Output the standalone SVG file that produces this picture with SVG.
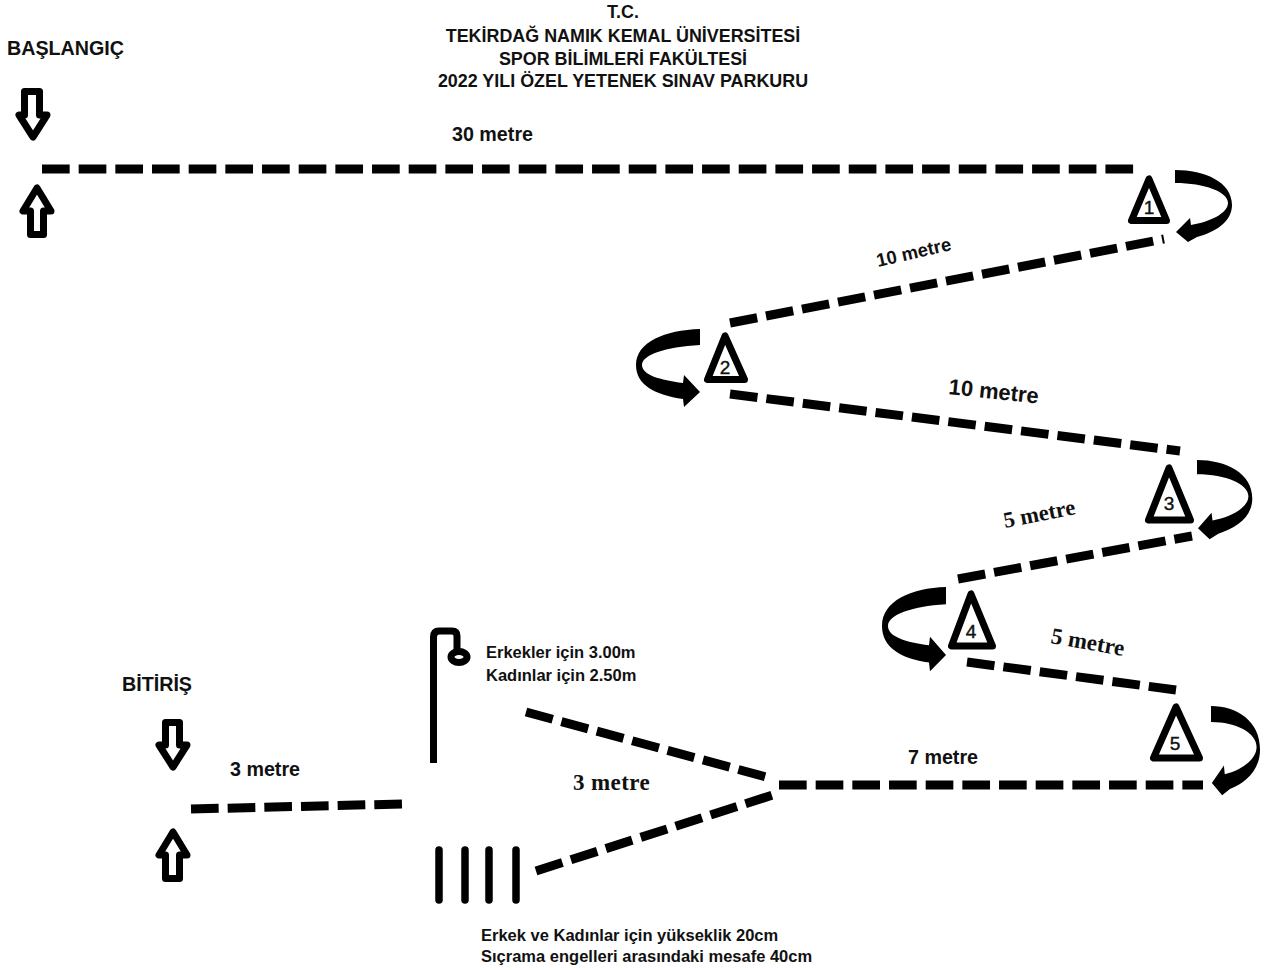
<svg xmlns="http://www.w3.org/2000/svg" xmlns:xlink="http://www.w3.org/1999/xlink" width="1266" height="970" viewBox="0 0 1266 970">
<style>
text{font-family:"Liberation Sans",Arial,sans-serif;font-weight:700;fill:#111;font-size:17.9px}
.c{text-anchor:middle}
.n{font-size:19px;font-weight:400;stroke:#111;stroke-width:.4}
.h{font-size:19.7px}
.m{font-size:16.5px}
.s{font-family:"Liberation Serif","Times New Roman",serif}
.d{fill:none;stroke:#000;stroke-width:9;stroke-dasharray:27.67 9}
.a{fill:#fff;stroke:#000;stroke-width:7;stroke-linejoin:round}
.t{fill:#fff;stroke:#000;stroke-width:7;stroke-linejoin:round}
.b{fill:none;stroke:#000;stroke-width:7.5;stroke-linecap:round}
</style>
<defs>
<path id="turn-right" d="M1175 170C1205 170 1232 182 1232 205C1232 222 1215 232 1197 237L1188 242L1176 232L1190 218L1191 225C1210 222 1228 213 1228 203C1228 192 1205 183 1175 183Z"/>
<path id="turn-left" d="M700 329C665 330 636 342 636 365C636 385 655 395 683 399L684 407L700 392L684 375L683 383C660 380 642 375 642 365C642 355 665 347 700 345Z"/>
</defs>
<rect width="1266" height="970" fill="#fff"/>
<g id="title">
<text class="c" x="623" y="18">T.C.</text>
<text class="c" x="623" y="42">TEKİRDAĞ NAMIK KEMAL ÜNİVERSİTESİ</text>
<text class="c" x="623" y="65">SPOR BİLİMLERİ FAKÜLTESİ</text>
<text class="c" x="623" y="87">2022 YILI ÖZEL YETENEK SINAV PARKURU</text>
</g>
<g id="connectors">
<path class="d" d="M42 169H1137"/>
<path class="d" d="M730 323L1164 239"/>
<path class="d" d="M730 394L1180 451"/>
<path class="d" d="M958 579L1192 536"/>
<path class="d" d="M967 662L1176 690"/>
<path class="d" d="M779 785H1203"/>
<path class="d" d="M526 712L766 777"/>
<path class="d" d="M536 871L776 794"/>
<path class="d" d="M191 809L402 804"/>
</g>
<g id="start"><text class="h" x="7" y="55">BAŞLANGIÇ</text>
<path class="a" d="M24.500 91.500H39.500V115H47L33 137L19 115H24.500Z"/>
<path class="a" d="M30.500 234.500H43.500V211H51L37 188L23 211H30.500Z"/></g>
<g id="finish"><text class="h" x="122" y="691">BİTİRİŞ</text>
<path class="a" d="M165.500 722.500H179.500V745H187L173 767L159 745H165.500Z"/>
<path class="a" d="M165.500 878.500H179.500V855H187L173 832L159 855H165.500Z"/></g>
<g id="cone1"><path class="t" d="M1149 179L1131.500 220.500H1166.500Z"/><text class="c n" x="1149" y="214">1</text>
<use href="#turn-right" xlink:href="#turn-right"/></g>
<g id="cone2"><path class="t" d="M725 336L707.500 379.500H744.500Z"/><text class="c n" x="725" y="374">2</text>
<use href="#turn-left" xlink:href="#turn-left"/></g>
<g id="cone3"><path class="t" d="M1169 468L1148.500 520H1190.500Z"/><text class="c n" x="1169" y="510">3</text>
<use href="#turn-right" xlink:href="#turn-right" transform="translate(1197 460) scale(.97 1.1) translate(-1175 -170)"/></g>
<g id="cone4"><path class="t" d="M971 594L951.500 646H992.500Z"/><text class="c n" x="971" y="638">4</text>
<use href="#turn-left" xlink:href="#turn-left" transform="translate(946 587) scale(1 1.08) translate(-700 -329)"/></g>
<g id="cone5"><path class="t" d="M1176 707L1153.500 758H1199.500Z"/><text class="c n" x="1175" y="750">5</text>
<use href="#turn-right" xlink:href="#turn-right" transform="translate(1211 706) scale(.86 1.24) translate(-1175 -170)"/></g>
<g id="high-jump"><path d="M433.500 763V637Q433.500 631 439 631H452Q457 631 457 636V652" fill="none" stroke="#000" stroke-width="7"/><ellipse cx="459" cy="657" rx="8" ry="5.500" fill="#fff" stroke="#000" stroke-width="7"/>
<text class="m" x="486" y="658">Erkekler için 3.00m</text><text class="m" x="486" y="681">Kadınlar için 2.50m</text></g>
<g id="hurdles"><path class="b" d="M439 850V900M465 850V900M489 850V900M516 850V900"/>
<text class="m" x="481" y="941">Erkek ve Kadınlar için yükseklik 20cm</text><text class="m" x="481" y="962">Sıçrama engelleri arasındaki mesafe 40cm</text></g>
<g id="labels">
<text class="h" x="452" y="141">30 metre</text>
<text x="878" y="267" style="font-size:18.500px" transform="rotate(-13 878 267)">10 metre</text>
<text x="948" y="394" style="font-size:22px" transform="rotate(6 948 394)">10 metre</text>
<text class="s" x="1005" y="528" style="font-size:22.500px" transform="rotate(-11 1005 528)">5 metre</text>
<text class="s" x="1050" y="643" style="font-size:23px" transform="rotate(10 1050 643)">5 metre</text>
<text class="h" x="908" y="764">7 metre</text>
<text class="s" x="573" y="790" style="font-size:23px;letter-spacing:.4px">3 metre</text>
<text class="h" x="230" y="776">3 metre</text>
</g>
</svg>
